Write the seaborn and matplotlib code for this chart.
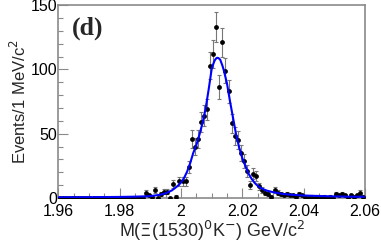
import numpy as np
import pandas as pd
import matplotlib
matplotlib.use('Agg')
import matplotlib.pyplot as plt
import seaborn as sns

# histogram: 1 MeV bins from 1.960 to 2.060 GeV
bin_centers = np.round(np.arange(1.9605, 2.060, 0.001), 4)
counts = [0, 0, 0, 0, 0, 0, 0, 0, 0, 0,
          0, 0, 0, 0, 0, 0, 0, 0, 0, 0,
          0, 0, 0, 0, 0, 0, 0, 0, 4, 2,
          1, 6, 0, 3, 5, 5, 0, 11, 1, 13,
          13, 13, 24, 46, 40, 46, 59, 64, 69, 103,
          112, 133, 86, 121, 99, 83, 58, 48, 45, 35,
          29, 21, 10, 19, 17, 9, 6, 4, 3, 1,
          6, 4, 3, 2, 3, 2, 2, 1, 3, 2,
          1, 0, 1, 0, 1, 0, 1, 0, 1, 0,
          3, 2, 3, 2, 0, 2, 1, 2, 4, 1]

# fit curve
fit_x = [1.960, 1.970, 1.980, 1.985, 1.990, 1.993, 1.995, 1.997, 1.999, 2.000,
         2.001, 2.002, 2.003, 2.004, 2.005, 2.006, 2.007, 2.008, 2.009, 2.010,
         2.0105, 2.011, 2.0115, 2.0118, 2.0122, 2.0128, 2.0135, 2.014, 2.015, 2.016,
         2.017, 2.018, 2.019, 2.020, 2.021, 2.022, 2.023, 2.024, 2.025, 2.026,
         2.027, 2.028, 2.030, 2.033, 2.036, 2.040, 2.045, 2.050, 2.055, 2.060]
fit_y = [0.5, 0.6, 0.8, 1.0, 1.4, 2.4, 3.6, 5.8, 9.5, 12.0,
         15.5, 20.5, 27, 35, 41, 49, 58, 69, 84, 100,
         104, 107, 108.6, 109, 108.8, 107.5, 103, 99, 89, 75,
         62, 49, 39, 31, 25, 19, 15, 11.8, 9.5, 7.8,
         6.6, 5.7, 4.5, 3.2, 2.5, 1.9, 1.5, 1.2, 1.0, 0.9]

df = pd.DataFrame({'mass': bin_centers, 'events': counts})
df['err'] = np.sqrt(df['events'])
fit = pd.DataFrame({'mass': fit_x, 'fit': fit_y})

sns.set_style('ticks')
plt.rcParams['font.family'] = ['Liberation Sans', 'DejaVu Sans']

fig, ax = plt.subplots(figsize=(3.81, 2.42), dpi=100)
fig.subplots_adjust(left=0.153, right=0.958, top=0.979, bottom=0.182)

frame_col = '#8a8a8a'

# error bars (only for non-empty bins)
nz = df[df['events'] > 0]
ax.errorbar(nz['mass'], nz['events'], yerr=nz['err'], fmt='none',
            ecolor='#777777', elinewidth=0.8, capsize=1.5, capthick=0.8, zorder=2)
sns.scatterplot(data=df, x='mass', y='events', ax=ax, color='black',
                s=12, edgecolor='black', linewidth=0, zorder=3, legend=False)
sns.lineplot(data=fit, x='mass', y='fit', ax=ax, color='#0000ff',
             linewidth=1.5, zorder=4, legend=False)

ax.set_xlim(1.96, 2.06)
ax.set_ylim(0, 150)
ax.set_xticks([1.96, 1.98, 2.00, 2.02, 2.04, 2.06])
ax.set_xticklabels(['1.96', '1.98', '2', '2.02', '2.04', '2.06'])
ax.set_xticks(np.arange(1.96, 2.0601, 0.005), minor=True)
ax.set_yticks([0, 50, 100, 150])
ax.set_yticks(np.arange(0, 151, 10), minor=True)

ax.tick_params(which='both', direction='in', colors=frame_col, labelcolor='black',
               labelsize=11.5, top=False, right=False)
ax.tick_params(which='major', length=7, width=0.8)
ax.tick_params(which='minor', length=3.5, width=0.8)
ax.tick_params(axis='x', pad=4)
ax.tick_params(axis='y', pad=1)

for s in ax.spines.values():
    s.set_color(frame_col)
    s.set_linewidth(1.2)

ax.set_xlabel(r'M($\Xi$(1530)$^{0}$K$^{-}$) GeV/c$^{2}$', fontsize=13, labelpad=0)
ax.set_ylabel(r'Events/1 MeV/c$^{2}$', fontsize=12, labelpad=1)

ax.text(0.045, 0.88, '(d)', transform=ax.transAxes, fontsize=18.5, fontweight='bold',
        family='Liberation Serif', va='center', ha='left')

fig.savefig('out.png', dpi=100)
